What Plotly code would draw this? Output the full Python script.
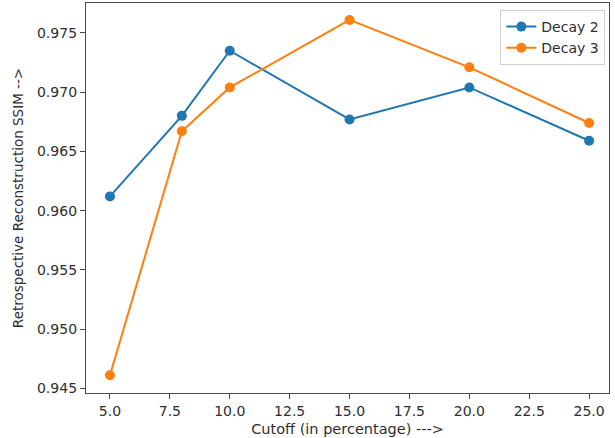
import plotly.graph_objects as go

cutoff = [5, 8, 10, 15, 20, 25]
decay2 = [0.9612, 0.9680, 0.9735, 0.9677, 0.9704, 0.9659]
decay3 = [0.9461, 0.9667, 0.9704, 0.9761, 0.9721, 0.9674]
x_ticks = [5.0, 7.5, 10.0, 12.5, 15.0, 17.5, 20.0, 22.5, 25.0]
y_ticks = [0.945, 0.950, 0.955, 0.960, 0.965, 0.970, 0.975]

font_family = "DejaVu Sans"
fs = 14
text_color = "#2e2e2e"
axis_color = "#4a4a4a"

fig = go.Figure()
fig.add_trace(go.Scatter(x=cutoff, y=decay2, mode="lines+markers", name="Decay 2",
                         line=dict(color="#1f77b4", width=2), marker=dict(size=10, color="#1f77b4")))
fig.add_trace(go.Scatter(x=cutoff, y=decay3, mode="lines+markers", name="Decay 3",
                         line=dict(color="#ff7f0e", width=2), marker=dict(size=10, color="#ff7f0e")))

fig.update_layout(
    width=615, height=438,
    margin=dict(l=86, r=6, t=3, b=45),
    paper_bgcolor="white", plot_bgcolor="white",
    font=dict(family=font_family, size=fs, color=text_color),
    showlegend=True,
    legend=dict(x=0.993, y=0.982, xanchor="right", yanchor="top",
                bgcolor="rgba(255,255,255,0.8)", bordercolor="#d0d0d0", borderwidth=1,
                font=dict(size=fs, color=text_color)),
    xaxis=dict(range=[4.0, 25.83], tickvals=x_ticks, ticktext=[f"{v:.1f}" for v in x_ticks],
               showgrid=False, zeroline=False, showline=True, linecolor=axis_color, linewidth=1.3,
               mirror=True, ticks="outside", ticklen=5, tickcolor=axis_color, tickwidth=1.3,
               title=dict(text="Cutoff (in percentage) --->", standoff=5,
                          font=dict(size=14.5, color=text_color))),
    yaxis=dict(range=[0.94460, 0.97753], tickvals=y_ticks, ticktext=[f"{v:.3f}" for v in y_ticks],
               showgrid=False, zeroline=False, showline=True, linecolor=axis_color, linewidth=1.3,
               mirror=True, ticks="outside", ticklen=5, tickcolor=axis_color, tickwidth=1.3,
               title=dict(text="Retrospective Reconstruction SSIM -->", standoff=10,
                          font=dict(size=13.5, color=text_color))),
)

fig.write_html("out.html")
